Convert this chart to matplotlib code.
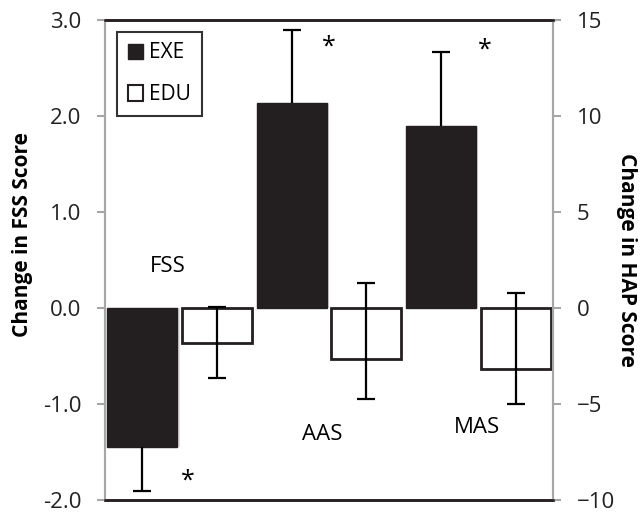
import matplotlib
matplotlib.use("Agg")
import matplotlib.pyplot as plt
from matplotlib.patches import Patch
import numpy as np

plt.rcParams['font.family'] = ['Open Sans', 'DejaVu Sans']

# FSS (left axis), HAP (right axis)
fss_exe, fss_edu = -1.45, -0.36
fss_exe_err, fss_edu_err = 0.46, 0.37

hap_groups = ['AAS', 'MAS']
hap_exe = [10.66, 9.48]
hap_exe_err = [3.82, 3.84]
hap_edu = [-2.67, -3.18]
hap_edu_err_up = [3.99, 3.98]
hap_edu_err_dn = [2.07, 1.82]

black = '#231f20'
grey = '#a6a6a6'
w = 0.94

fig = plt.figure(figsize=(6.43, 5.13), dpi=100)
ax = fig.add_axes([0.1633, 0.0253, 0.6967, 0.9357])
ax2 = ax.twinx()

def shadow(a, x, h):
    a.bar(x + 0.03, h, w, bottom=0, color='#d0d0d0', alpha=0.6, zorder=1, linewidth=0)

def one_side_err(a, x, h, err):
    # error bar drawn outward from the bar end only
    a.vlines(x, h, h + err, color='black', lw=1.6, zorder=4)
    a.plot([x], [h + err], marker='_', ms=13, mew=1.6, color='black', zorder=4)

ekw = dict(ecolor='black', elinewidth=1.6, capsize=6.5, capthick=1.6, zorder=4)

# FSS bars
shadow(ax, 0, fss_exe)
ax.bar(0, fss_exe, w, color=black, edgecolor=black, lw=1, zorder=2)
one_side_err(ax, 0, fss_exe, -fss_exe_err)
ax.bar(1, fss_edu, w, color='white', edgecolor=black, lw=2, zorder=2)
ax.errorbar(1, fss_edu, yerr=fss_edu_err, fmt='none', **ekw)

# HAP bars
for i in range(2):
    xe, xd = 2 + 2 * i, 3 + 2 * i
    shadow(ax2, xe, hap_exe[i])
    ax2.bar(xe, hap_exe[i], w, color=black, edgecolor=black, lw=1, zorder=2)
    one_side_err(ax2, xe, hap_exe[i], hap_exe_err[i])
    ax2.bar(xd, hap_edu[i], w, color='white', edgecolor=black, lw=2, zorder=2)
    ax2.errorbar(xd, hap_edu[i], yerr=[[hap_edu_err_dn[i]], [hap_edu_err_up[i]]], fmt='none', **ekw)

ax.set_xlim(-0.5, 5.5)
ax.set_ylim(-2, 3)
ax2.set_ylim(-10, 15)
ax.set_yticks(np.arange(-2, 3.1, 1))
ax.set_yticklabels(['%.1f' % v for v in np.arange(-2, 3.1, 1)])
ax2.set_yticks(np.arange(-10, 16, 5))
ax.set_xticks([])

for a in (ax, ax2):
    a.spines['left'].set_color(grey)
    a.spines['right'].set_color(grey)
    a.spines['left'].set_linewidth(1.5)
    a.spines['right'].set_linewidth(1.5)
    a.spines['top'].set_color(black)
    a.spines['bottom'].set_color(black)
    a.spines['top'].set_linewidth(1.8)
    a.spines['bottom'].set_linewidth(1.8)
    a.tick_params(axis='y', colors=grey, labelcolor='#222222', labelsize=16,
                  length=6, width=1.5, pad=11)

ax.set_ylabel('Change in FSS Score', fontsize=15, fontweight='bold')
ax.yaxis.set_label_coords(-0.16, 0.552)
ax2.set_ylabel('Change in HAP Score', fontsize=15, fontweight='bold', rotation=270,
               va='center')
ax2.yaxis.set_label_coords(1.165, 0.5)

# group labels and significance stars (left-axis coords)
ax.text(0.34, 0.43, 'FSS', fontsize=16, ha='center', va='center')
ax.text(2.41, -1.32, 'AAS', fontsize=16, ha='center', va='center')
ax.text(4.48, -1.24, 'MAS', fontsize=16, ha='center', va='center')
for sx, sy in [(0.61, -1.80), (2.5, 2.72), (4.59, 2.69)]:
    ax.text(sx, sy, '*', fontsize=18, ha='center', va='center')

handles = [Patch(facecolor=black, edgecolor=black, label='EXE'),
           Patch(facecolor='white', edgecolor=black, lw=1.5, label='EDU')]
leg = ax2.legend(handles=handles, loc='upper left', bbox_to_anchor=(0.027, 0.975),
                 fontsize=15, frameon=True, fancybox=False, handlelength=0.75,
                 handleheight=0.75, handletextpad=0.3, labelspacing=1.0,
                 borderpad=0.5, borderaxespad=0)
leg.get_frame().set_edgecolor('black')
leg.get_frame().set_linewidth(1.5)

fig.savefig('out.png', dpi=100)
